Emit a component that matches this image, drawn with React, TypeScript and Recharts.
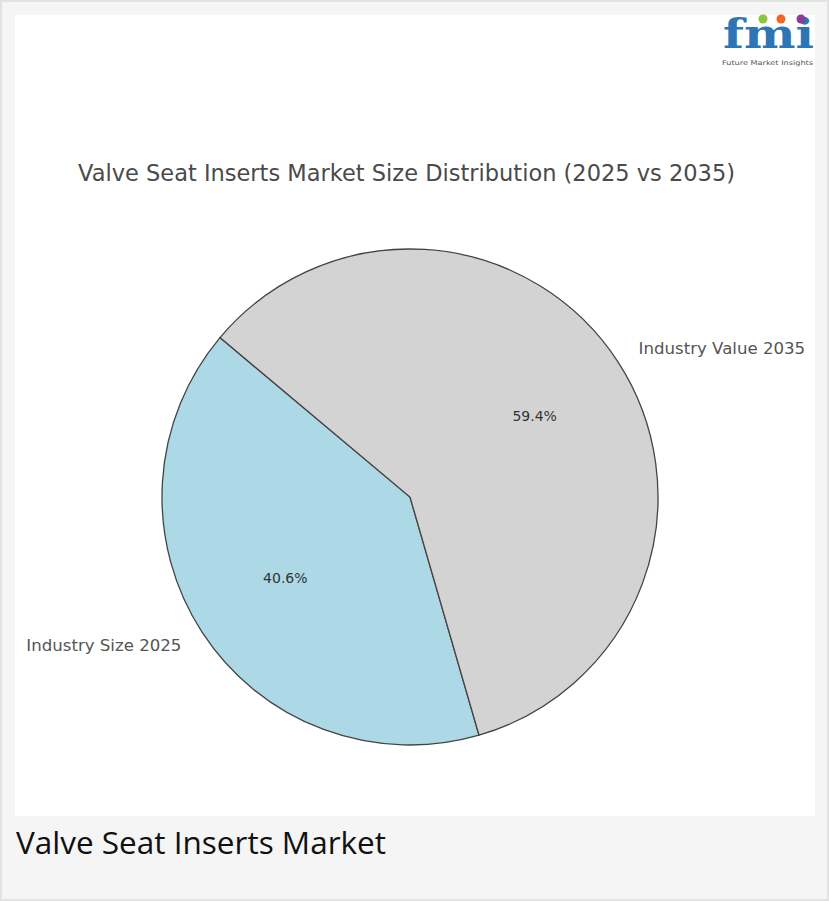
import { Pie, PieChart, Cell } from "recharts";

const categories = ["Industry Size 2025", "Industry Value 2035"];
const shares = [40.6, 59.4];
const sliceColors = ["#add8e6", "#d3d3d3"];

const chartTitle = "Valve Seat Inserts Market Size Distribution (2025 vs 2035)";
const caption = "Valve Seat Inserts Market";

const data = categories.map((name, i) => ({ name, value: shares[i] }));

const RAD = Math.PI / 180;

function SliceLabel(props: any) {
  const { cx, cy, midAngle, outerRadius, percent, name } = props;
  const cos = Math.cos(-midAngle * RAD);
  const sin = Math.sin(-midAngle * RAD);
  const lx = cx + outerRadius * 1.1 * cos;
  const ly = cy + outerRadius * 1.1 * sin;
  const px = cx + outerRadius * 0.6 * cos;
  const py = cy + outerRadius * 0.6 * sin;
  return (
    <g>
      <text
        x={lx}
        y={ly}
        textAnchor={cos >= 0 ? "start" : "end"}
        dominantBaseline="central"
        fontFamily="DejaVu Sans"
        fontSize={16.6}
        fill="#555"
      >
        {name}
      </text>
      <text
        x={px}
        y={py}
        textAnchor="middle"
        dominantBaseline="central"
        fontFamily="DejaVu Sans"
        fontSize={14}
        fill="#333"
      >
        {(percent * 100).toFixed(1)}%
      </text>
    </g>
  );
}

// rough stand-in for the fmi logo in the top right corner
function Logo() {
  return (
    <svg width={100} height={64} style={{ position: "absolute", left: 706, top: -10 }}>
      <text
        x={2}
        y={43}
        fontFamily="DejaVu Serif"
        fontWeight="bold"
        fontSize={41}
        fill="#2e75b6"
        textLength={91}
        lengthAdjust="spacingAndGlyphs"
      >
        fmi
      </text>
      <circle cx={42} cy={14} r={4.5} fill="#8dc63f" />
      <circle cx={60} cy={14} r={4.5} fill="#f26522" />
      <circle cx={80} cy={14} r={4.5} fill="#8e3a9d" />
      <text
        x={1}
        y={60}
        fontFamily="DejaVu Sans"
        fontSize={6.5}
        fill="#555"
        textLength={91}
        lengthAdjust="spacingAndGlyphs"
      >
        Future Market Insights
      </text>
    </svg>
  );
}

export default function App() {
  return (
    <div
      style={{
        position: "absolute",
        left: 0,
        top: 0,
        width: 829,
        height: 901,
        boxSizing: "border-box",
        border: "2px solid #e2e2e2",
        background: "#f5f5f5",
      }}
    >
      <div
        style={{
          position: "absolute",
          left: 13,
          top: 13,
          width: 800,
          height: 801,
          background: "#fff",
        }}
      >
        <div
          style={{
            position: "absolute",
            left: 0,
            top: 145,
            width: 783,
            textAlign: "center",
            fontFamily: "DejaVu Sans",
            fontSize: 22.5,
            color: "#4a4a4a",
            whiteSpace: "nowrap",
            zIndex: 1,
          }}
        >
          {chartTitle}
        </div>
        <PieChart width={800} height={801}>
          <Pie
            data={data}
            dataKey="value"
            nameKey="name"
            cx={390}
            cy={477}
            outerRadius={248}
            startAngle={140}
            endAngle={500}
            stroke="#444"
            strokeWidth={1.3}
            label={SliceLabel}
            labelLine={false}
            isAnimationActive={false}
          >
            {data.map((d, i) => (
              <Cell key={d.name} fill={sliceColors[i]} />
            ))}
          </Pie>
        </PieChart>
        <Logo />
      </div>
      <div
        style={{
          position: "absolute",
          left: 14,
          top: 818,
          fontFamily: "Open Sans",
          fontSize: 31.5,
          color: "#111",
          whiteSpace: "nowrap",
        }}
      >
        {caption}
      </div>
    </div>
  );
}
